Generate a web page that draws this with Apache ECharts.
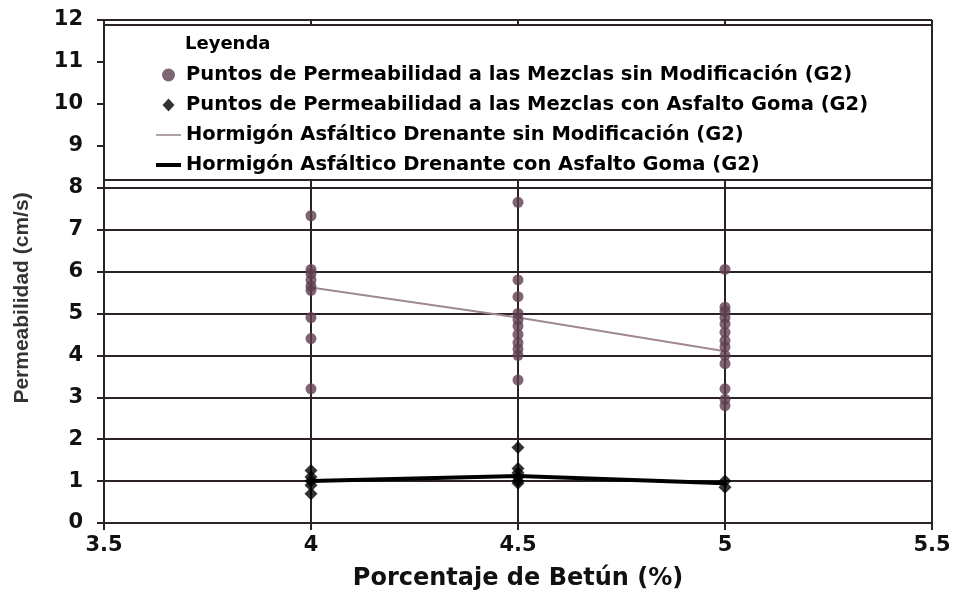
<!DOCTYPE html>
<html>
<head>
<meta charset="utf-8">
<script src="https://cdn.jsdelivr.net/npm/echarts@6/dist/echarts.min.js"></script>
<style>
  html, body { margin: 0; padding: 0; background: #ffffff; }
  #chart { width: 956px; height: 602px; }
</style>
</head>
<body>
<div id="chart"></div>
<script>
// Bitumen content (%) at which the specimens were tested
const bitumenPct = [4, 4.5, 5];

// Measured permeability (cm/s), unmodified binder, one list per bitumen content
const permSinMod = [
  [7.33, 6.05, 5.95, 5.8, 5.65, 5.55, 4.9, 4.4, 3.2],
  [7.65, 5.8, 5.4, 5.0, 4.85, 4.7, 4.5, 4.3, 4.15, 4.0, 3.41],
  [6.05, 5.15, 5.05, 4.9, 4.75, 4.55, 4.35, 4.2, 4.0, 3.8, 3.2, 2.95, 2.8]
];

// Measured permeability (cm/s), rubber-modified binder
const permGoma = [
  [1.25, 1.1, 1.0, 0.9, 0.7],
  [1.8, 1.3, 1.2, 1.1, 1.0, 0.95],
  [1.0, 0.85]
];

// Mean permeability curves
const lineSinMod = [5.62, 4.9, 4.1];
const lineGoma = [1.0, 1.12, 0.95];

const seriesNames = [
  'Puntos de Permeabilidad a las Mezclas sin Modificación (G2)',
  'Puntos de Permeabilidad a las Mezclas con Asfalto Goma (G2)',
  'Hormigón Asfáltico Drenante sin Modificación (G2)',
  'Hormigón Asfáltico Drenante con Asfalto Goma (G2)'
];

const yTicks = { min: 0, max: 12, interval: 1 };
const xTicks = { min: 3.5, max: 5.5, interval: 0.5 };

const toPoints = (groups) => groups.flatMap((vals, i) => vals.map(v => [bitumenPct[i], v]));
const toLine = (vals) => vals.map((v, i) => [bitumenPct[i], v]);

const WIDE = '"DejaVu Sans", Verdana, sans-serif';
const FONT = '"Liberation Sans", Arial, sans-serif';
const GRID_COLOR = '#2a2226';

// legend glyphs: dot, diamond, thin rule, thick rule
const legendIcons = [
  'circle',
  'path://M6,0 L12,6.5 L6,13 L0,6.5 Z',
  'path://M0,0 H25 V1.6 H0 Z',
  'path://M0,0 H25 V4 H0 Z'
];

const chart = echarts.init(document.getElementById('chart'), null, { renderer: 'canvas' });

const gridLeft = 104, gridTop = 20, gridRight = 24, gridBottom = 79;
const plotW = 956 - gridLeft - gridRight;

chart.setOption({
  animation: false,
  backgroundColor: '#ffffff',
  grid: { left: gridLeft, top: gridTop, right: gridRight, bottom: gridBottom, show: false },
  xAxis: {
    type: 'value',
    min: xTicks.min, max: xTicks.max, interval: xTicks.interval,
    name: 'Porcentaje de Betún (%)',
    nameLocation: 'middle',
    nameGap: 44,
    nameTextStyle: { fontFamily: WIDE, fontWeight: 'bold', fontSize: 24, color: '#111' },
    axisLine: { show: true, onZero: false, lineStyle: { color: GRID_COLOR, width: 2 } },
    axisTick: { show: true, inside: false, length: 7, lineStyle: { color: GRID_COLOR, width: 2 } },
    axisLabel: { fontFamily: WIDE, fontWeight: 'bold', fontSize: 21, color: '#111', margin: 12 },
    splitLine: { show: true, lineStyle: { color: GRID_COLOR, width: 2 } }
  },
  yAxis: {
    type: 'value',
    min: yTicks.min, max: yTicks.max, interval: yTicks.interval,
    axisLine: { show: true, onZero: false, lineStyle: { color: GRID_COLOR, width: 2 } },
    axisTick: { show: true, inside: false, length: 7, lineStyle: { color: GRID_COLOR, width: 2 } },
    axisLabel: { fontFamily: WIDE, fontWeight: 'bold', fontSize: 21, color: '#111', margin: 21 },
    splitLine: { show: true, lineStyle: { color: GRID_COLOR, width: 2 } }
  },
  legend: {
    orient: 'vertical',
    left: 151,
    top: 60,
    itemWidth: 25,
    itemHeight: 13,
    itemGap: 10,
    z: 30,
    textStyle: { fontFamily: WIDE, fontWeight: 'bold', fontSize: 19.5, color: '#000' },
    data: seriesNames.map((n, i) => ({ name: n, icon: legendIcons[i] }))
  },
  graphic: [
    {
      type: 'rect', z: 20,
      shape: { x: gridLeft, y: 25, width: plotW, height: 155 },
      style: { fill: '#ffffff', stroke: GRID_COLOR, lineWidth: 2 }
    },
    {
      type: 'text', z: 25, left: 185, top: 35,
      style: { text: 'Leyenda', font: 'bold 18px ' + WIDE, fill: '#000' }
    },
    {
      type: 'text', z: 25, x: 22, y: 298, rotation: Math.PI / 2,
      style: {
        text: 'Permeabilidad (cm/s)', font: 'bold 21px ' + FONT, fill: '#333',
        textAlign: 'center', textVerticalAlign: 'middle'
      }
    }
  ],
  series: [
    {
      name: seriesNames[0], type: 'scatter', z: 5,
      symbol: 'circle', symbolSize: 11,
      itemStyle: { color: '#5f3f4e' },
      data: toPoints(permSinMod)
    },
    {
      name: seriesNames[1], type: 'scatter', z: 6,
      symbol: 'diamond', symbolSize: 13,
      itemStyle: { color: '#000000' },
      data: toPoints(permGoma)
    },
    {
      name: seriesNames[2], type: 'line', z: 4,
      symbol: 'none', showSymbol: false,
      lineStyle: { color: '#a08892', width: 2 },
      itemStyle: { color: '#a08892' },
      data: toLine(lineSinMod)
    },
    {
      name: seriesNames[3], type: 'line', z: 4,
      symbol: 'none', showSymbol: false,
      lineStyle: { color: '#000000', width: 4 },
      itemStyle: { color: '#000000' },
      data: toLine(lineGoma)
    }
  ]
});
</script>
</body>
</html>
